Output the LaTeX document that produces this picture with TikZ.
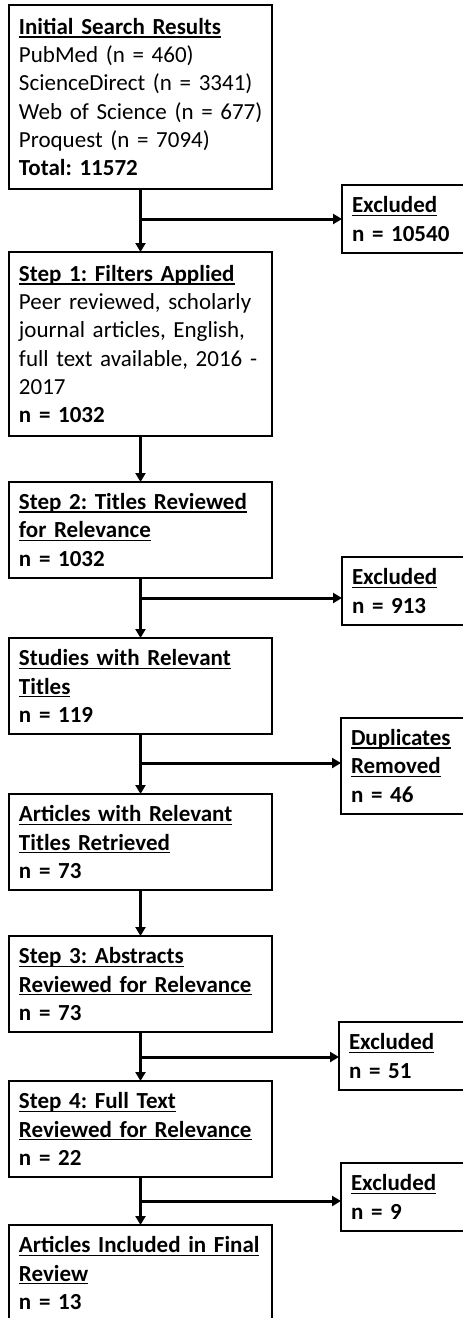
\documentclass[tikz,border=0pt]{standalone}
\usepackage{fontspec}
\setmainfont{Carlito}
\usepackage{xcolor}
\definecolor{Ink}{HTML}{000000}
\usetikzlibrary{arrows.meta,positioning}

% underlined bold heading line, rule at a fixed depth like Word does it
\newlength\headw
\newcommand\uhead[1]{\leavevmode\settowidth\headw{\bfseries #1}\rlap{\rule[-3.3pt]{\headw}{1.5pt}}\textbf{#1}}

\begin{document}
\begin{tikzpicture}[
  x=1pt,y=-1pt,
  box/.style={draw=Ink,line width=2pt,outer sep=0pt,inner xsep=10pt,inner ysep=0pt,align=left,
    font=\fontsize{23pt}{28.3pt}\selectfont\frenchspacing},
  mainbox/.style={box,text width=243pt,minimum height=96pt},
  sidebox/.style={box,text width=120pt,minimum height=68pt,anchor=north west},
  arrow/.style={-{Triangle[length=9pt,width=10pt]},draw=Ink,line width=3pt}
]
  \useasboundingbox (0,0) rectangle (463,1318);

  \node[mainbox,minimum height=184pt,anchor=north west] (init) at (9,5)
    {\uhead{Initial Search Results}\\PubMed (n = 460)\\ScienceDirect (n = 3341)\\\mbox{Web of Science (n = 677)}\\Proquest (n = 7094)\\\textbf{Total: 11572}};
  \node[mainbox,minimum height=184pt,below=63pt of init] (filters)
    {\uhead{Step 1: Filters Applied}\\Peer reviewed, scholarly\\journal articles, English,\\\mbox{full text available, 2016 -}\\2017\\\textbf{n = 1032}};
  \node[mainbox,below=46pt of filters] (titles)
    {\uhead{Step 2: Titles Reviewed}\\\uhead{for Relevance}\\\textbf{n = 1032}};
  \node[mainbox,below=60pt of titles] (studies)
    {\uhead{Studies with Relevant}\\\uhead{Titles}\\\textbf{n = 119}};
  \node[mainbox,below=60pt of studies] (retrieved)
    {\uhead{Articles with Relevant}\\\uhead{Titles Retrieved}\\\textbf{n = 73}};
  \node[mainbox,below=46pt of retrieved] (abstracts)
    {\uhead{Step 3: Abstracts}\\\uhead{Reviewed for Relevance}\\\textbf{n = 73}};
  \node[mainbox,below=49pt of abstracts] (fulltext)
    {\uhead{Step 4: Full Text}\\\uhead{Reviewed for Relevance}\\\textbf{n = 22}};
  \node[mainbox,below=48pt of fulltext] (final)
    {\uhead{Articles Included in Final}\\\uhead{Review}\\\textbf{n = 13}};

  \node[sidebox] (excl1) at (342,185) {\uhead{Excluded}\\\textbf{n = 10540}};
  \node[sidebox] (excl2) at (342,557) {\uhead{Excluded}\\\textbf{n = 913}};
  \node[sidebox,minimum height=96pt] (dupl) at (341,718) {\uhead{Duplicates}\\\uhead{Removed}\\\textbf{n = 46}};
  \node[sidebox] (excl3) at (339,1022) {\uhead{Excluded}\\\textbf{n = 51}};
  \node[sidebox] (excl4) at (341,1163) {\uhead{Excluded}\\\textbf{n = 9}};

  % branch points on the down arrows
  \coordinate (j1) at ([yshift=-30pt]init.south);
  \coordinate (j2) at ([yshift=-20pt]titles.south);
  \coordinate (j3) at ([yshift=-29pt]studies.south);
  \coordinate (j4) at ([yshift=-25pt]abstracts.south);
  \coordinate (j5) at ([yshift=-24pt]fulltext.south);

  \draw[arrow] (init) -- (filters);
  \draw[arrow] (filters) -- (titles);
  \draw[arrow] (titles) -- (studies);
  \draw[arrow] (studies) -- (retrieved);
  \draw[arrow] (retrieved) -- (abstracts);
  \draw[arrow] (abstracts) -- (fulltext);
  \draw[arrow] (fulltext) -- (final);

  \draw[arrow] (j1) -- (j1 -| excl1.west);
  \draw[arrow] (j2) -- (j2 -| excl2.west);
  \draw[arrow] (j3) -- (j3 -| dupl.west);
  \draw[arrow] (j4) -- (j4 -| excl3.west);
  \draw[arrow] (j5) -- (j5 -| excl4.west);
\end{tikzpicture}
\end{document}
